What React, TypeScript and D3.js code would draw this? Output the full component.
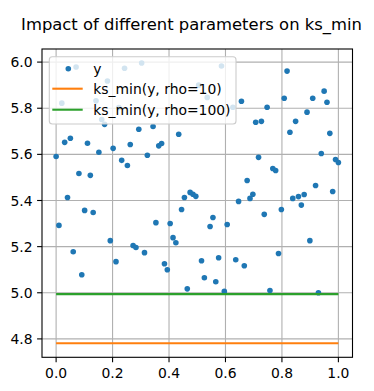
import React from "react";
import * as d3 from "d3";

// x positions are np.linspace(0,1,100) indices; two points hidden in the reference are omitted
const pointIndex = [
  0, 1, 2, 3, 4, 5, 6, 7, 8, 9, 10, 11, 12, 13, 14, 15, 16, 17, 18, 19,
  20, 21, 22, 23, 24, 25, 26, 27, 28, 29, 30, 31, 32, 34, 35, 36, 37, 38, 39,
  40, 41, 42, 43, 44, 45, 46, 47, 48, 49, 50, 51, 52, 53, 54, 55, 56, 57, 58, 59,
  60, 62, 63, 64, 65, 66, 67, 68, 69, 70, 71, 72, 73, 74, 75, 76, 77, 78, 79,
  80, 81, 82, 83, 84, 85, 86, 87, 88, 89, 90, 91, 92, 93, 94, 95, 96, 97, 98, 99,
];
const yValues = [
  5.591, 5.292, 5.822, 5.652, 5.413, 5.670, 5.178, 5.979, 5.517, 5.078,
  5.357, 5.648, 5.509, 5.348, 5.832, 5.609, 5.751, 5.730, 5.918, 5.226,
  5.626, 5.135, 5.803, 5.574, 5.973, 5.552, 5.643, 5.205, 5.196, 5.709,
  5.996, 5.174, 5.596, 5.721, 5.304, 5.637, 5.647, 5.126, 5.100,
  5.300, 5.239, 5.217, 5.687, 5.361, 5.413, 5.017, 5.435, 5.427, 5.418,
  5.900, 5.139, 5.065, 5.847, 5.287, 5.326, 5.048, 5.152, 5.983, 5.006,
  5.296, 5.804, 5.143, 5.396, 5.830, 5.117, 5.487, 5.409, 5.427, 5.739,
  5.587, 5.743, 5.340, 5.804, 5.010, 5.539, 5.530, 5.170, 5.361,
  5.843, 5.961, 5.696, 5.409, 5.743, 5.417, 5.380, 5.426, 5.783, 5.226,
  5.843, 5.465, 5.000, 5.604, 5.874, 5.826, 5.691, 5.439, 5.578, 5.565,
];
const xValues = pointIndex.map((i) => i / 99);

const lineLabels = ["ks_min(y, rho=10)", "ks_min(y, rho=100)"];
const lineValues = [4.781, 4.994];
const lineColors = ["#ff7f0e", "#2ca02c"];
const lineX = [0, 1];

const xTicks = [0, 0.2, 0.4, 0.6, 0.8, 1.0];
const yTicks = [4.8, 5.0, 5.2, 5.4, 5.6, 5.8, 6.0];

const W = 374;
const H = 391;
const L = 42, R = 352.5, T = 49, B = 357.3;
const FONT = "DejaVu Sans, sans-serif";
const BLUE = "#1f77b4";

export default function App() {
  const x = d3.scaleLinear().domain([-0.05, 1.05]).range([L, R]);
  const all = [...yValues, ...lineValues];
  const lo = d3.min(all)!, hi = d3.max(all)!;
  const pad = (hi - lo) * 0.05;
  const y = d3.scaleLinear().domain([lo - pad, hi + pad]).range([B, T]);

  return (
    <svg width={W} height={H} style={{ position: "absolute", left: 0, top: 0 }} fontFamily={FONT}>
      <rect width={W} height={H} fill="#fff" />
      <text x={191.5} y={30} fontSize={16.4} textAnchor="middle" fill="#000">
        Impact of different parameters on ks_min
      </text>
      {/* grid */}
      <g stroke="#b0b0b0" strokeWidth={1.1}>
        {xTicks.map((t) => (
          <line key={"gx" + t} x1={x(t)} x2={x(t)} y1={T} y2={B} />
        ))}
        {yTicks.map((t) => (
          <line key={"gy" + t} x1={L} x2={R} y1={y(t)} y2={y(t)} />
        ))}
      </g>
      {/* points */}
      <g fill={BLUE}>
        {yValues.map((v, i) => (
          <circle key={i} cx={x(xValues[i])} cy={y(v)} r={2.8} />
        ))}
      </g>
      {/* ks_min lines */}
      {lineValues.map((v, i) => (
        <path
          key={"l" + i}
          d={d3.line<number>().x((d) => x(d)).y(() => y(v))(lineX)!}
          stroke={lineColors[i]}
          strokeWidth={2.1}
          fill="none"
        />
      ))}
      {/* spines */}
      <rect x={L} y={T} width={R - L} height={B - T} fill="none" stroke="#000" strokeWidth={1.1} />
      {/* x ticks */}
      {xTicks.map((t) => (
        <g key={"xt" + t}>
          <line x1={x(t)} x2={x(t)} y1={B} y2={B + 4.9} stroke="#000" strokeWidth={1.1} />
          <text x={x(t)} y={B + 20.5} fontSize={13.9} textAnchor="middle" fill="#000">
            {t.toFixed(1)}
          </text>
        </g>
      ))}
      {/* y ticks */}
      {yTicks.map((t) => (
        <g key={"yt" + t}>
          <line x1={L - 4.9} x2={L} y1={y(t)} y2={y(t)} stroke="#000" strokeWidth={1.1} />
          <text x={L - 9.5} y={y(t)} dy="0.36em" fontSize={13.9} textAnchor="end" fill="#000">
            {t.toFixed(1)}
          </text>
        </g>
      ))}
      {/* legend */}
      <g>
        <rect x={49.3} y={56.7} width={186.7} height={67.3} rx={3} fill="#fff" fillOpacity={0.8} stroke="#cccccc" strokeWidth={1.1} />
        <circle cx={68.3} cy={68.7} r={2.8} fill={BLUE} />
        <text x={93.3} y={68.7} dy="0.36em" fontSize={13.9} fill="#000">y</text>
        {lineLabels.map((lab, i) => {
          const cy = 88.7 + i * 21;
          return (
            <g key={lab}>
              <line x1={52.3} x2={82.7} y1={cy} y2={cy} stroke={lineColors[i]} strokeWidth={2.1} />
              <text x={93.3} y={cy} dy="0.36em" fontSize={13.9} fill="#000">{lab}</text>
            </g>
          );
        })}
      </g>
    </svg>
  );
}
